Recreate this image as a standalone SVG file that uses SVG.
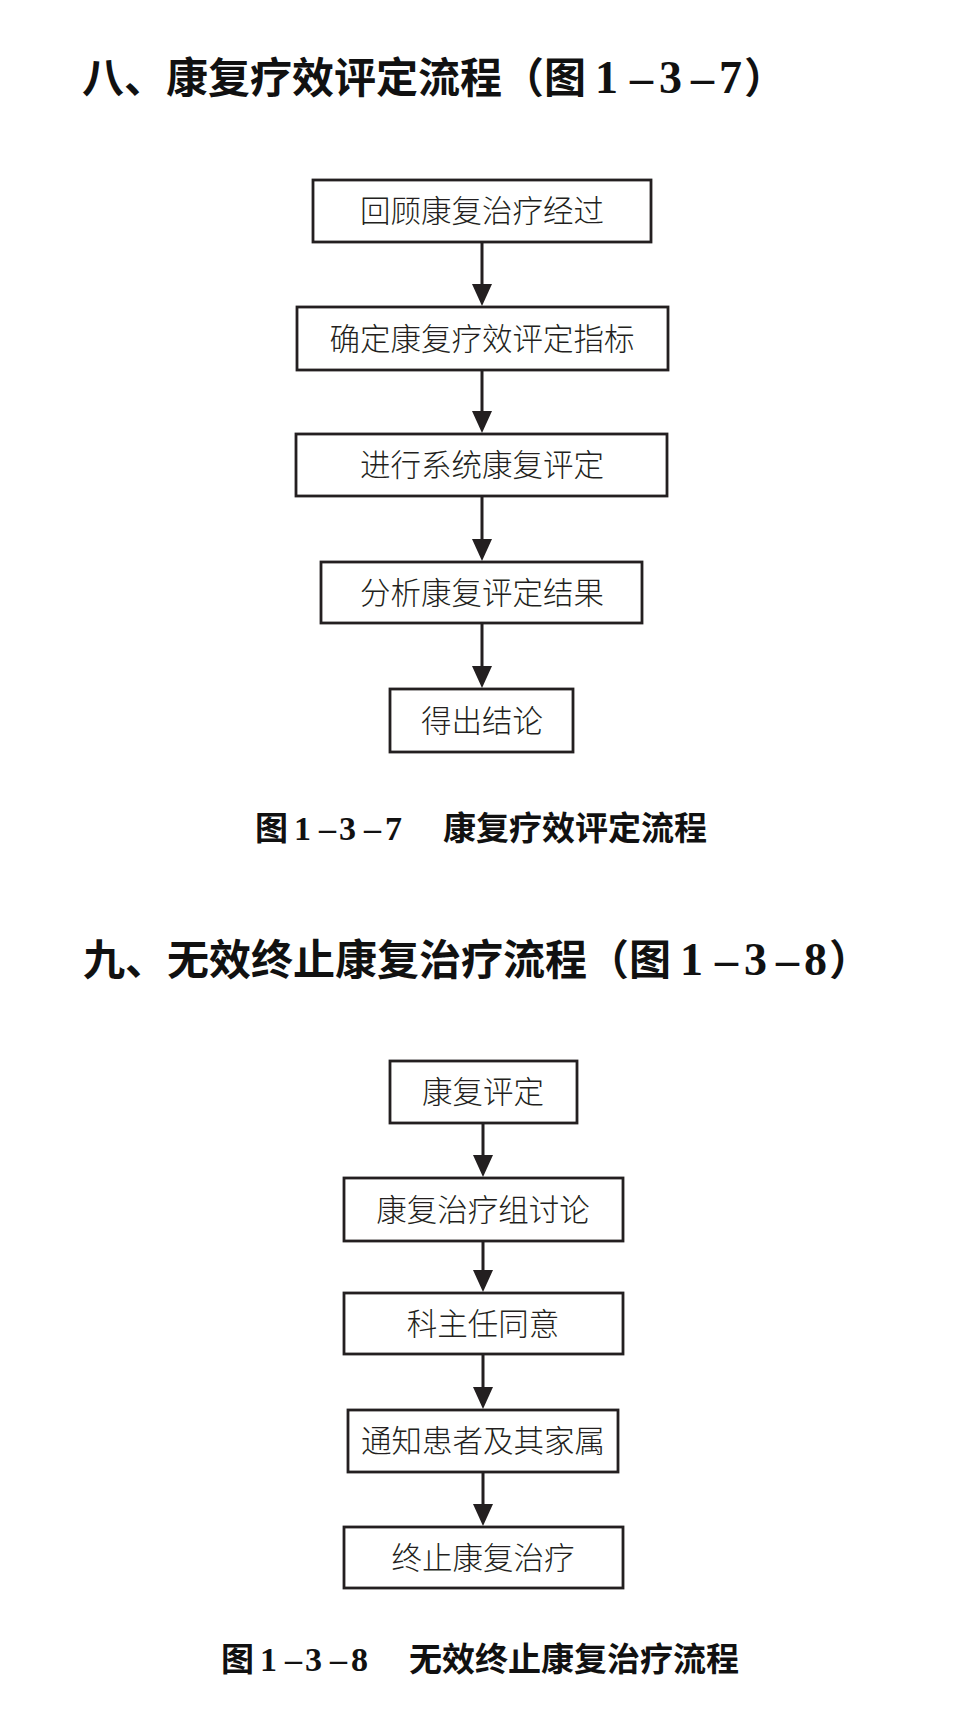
<svg xmlns="http://www.w3.org/2000/svg" width="956" height="1735" viewBox="0 0 956 1735">
<style>
.title{font-family:"Noto Sans CJK SC",sans-serif;font-size:42px;font-weight:bold;fill:#111}
.tnum{font-family:"Liberation Serif",serif;font-size:46px;font-weight:bold;fill:#111}
.cap{font-family:"Noto Sans CJK SC",sans-serif;font-size:33px;font-weight:bold;fill:#111}
.cnum{font-family:"Liberation Serif",serif;font-size:34px;font-weight:bold;fill:#111}
.box{fill:#fff;stroke:#231f20;stroke-width:2.8}
.lbl{font-family:"Noto Sans CJK SC",sans-serif;font-size:30.5px;font-weight:300;fill:#231f20;text-anchor:middle}
.conn{stroke:#231f20;stroke-width:3;fill:none}
</style>
<defs>
<marker id="ah" markerUnits="userSpaceOnUse" markerWidth="22" markerHeight="20" refX="10" refY="10" orient="auto" viewBox="0 0 22 20">
<path d="M0,0 L22,10 L0,20 z" fill="#231f20"/>
</marker>
</defs>
<rect width="956" height="1735" fill="#fff"/>

<g id="title1">
<text class="title" y="93"><tspan x="82">八、康复疗效评定流程</tspan><tspan x="502">（</tspan><tspan x="544">图</tspan></text>
<text class="tnum" y="93"><tspan x="595">1</tspan><tspan x="630">–</tspan><tspan x="659">3</tspan><tspan x="691">–</tspan><tspan x="719">7</tspan></text>
<text class="title" y="93"><tspan x="744">）</tspan></text>
</g>

<g id="n1"><rect class="box" x="313" y="180" width="338" height="62"/><text class="lbl" x="482" y="222">回顾康复治疗经过</text></g>
<g id="n2"><rect class="box" x="297" y="307" width="371" height="63"/><text class="lbl" x="482" y="349.5">确定康复疗效评定指标</text></g>
<g id="n3"><rect class="box" x="296" y="434" width="371" height="62"/><text class="lbl" x="482" y="476">进行系统康复评定</text></g>
<g id="n4"><rect class="box" x="321" y="562" width="321" height="61"/><text class="lbl" x="482" y="603.5">分析康复评定结果</text></g>
<g id="n5"><rect class="box" x="390" y="689" width="183" height="63"/><text class="lbl" x="482" y="731.5">得出结论</text></g>

<g id="connectors1">
<line class="conn" x1="482" y1="243" x2="482" y2="294" marker-end="url(#ah)"/>
<line class="conn" x1="482" y1="371" x2="482" y2="421" marker-end="url(#ah)"/>
<line class="conn" x1="482" y1="497" x2="482" y2="549" marker-end="url(#ah)"/>
<line class="conn" x1="482" y1="624" x2="482" y2="676" marker-end="url(#ah)"/>
</g>

<g id="caption1">
<text class="cap" y="840"><tspan x="255">图</tspan></text>
<text class="cnum" y="840"><tspan x="294">1</tspan><tspan x="319">–</tspan><tspan x="339">3</tspan><tspan x="364">–</tspan><tspan x="385">7</tspan></text>
<text class="cap" y="840"><tspan x="443">康复疗效评定流程</tspan></text>
</g>

<g id="title2">
<text class="title" y="975"><tspan x="83">九、无效终止康复治疗流程</tspan><tspan x="587">（</tspan><tspan x="629">图</tspan></text>
<text class="tnum" y="975"><tspan x="680">1</tspan><tspan x="715">–</tspan><tspan x="744">3</tspan><tspan x="776">–</tspan><tspan x="804">8</tspan></text>
<text class="title" y="975"><tspan x="829">）</tspan></text>
</g>

<g id="m1"><rect class="box" x="390" y="1061" width="187" height="62"/><text class="lbl" x="483" y="1103">康复评定</text></g>
<g id="m2"><rect class="box" x="344" y="1178" width="279" height="63"/><text class="lbl" x="483" y="1220.5">康复治疗组讨论</text></g>
<g id="m3"><rect class="box" x="344" y="1293" width="279" height="61"/><text class="lbl" x="483" y="1334.5">科主任同意</text></g>
<g id="m4"><rect class="box" x="348" y="1410" width="270" height="62"/><text class="lbl" x="483" y="1452">通知患者及其家属</text></g>
<g id="m5"><rect class="box" x="344" y="1527" width="279" height="61"/><text class="lbl" x="483" y="1568.5">终止康复治疗</text></g>

<g id="connectors2">
<line class="conn" x1="483" y1="1124" x2="483" y2="1165" marker-end="url(#ah)"/>
<line class="conn" x1="483" y1="1242" x2="483" y2="1280" marker-end="url(#ah)"/>
<line class="conn" x1="483" y1="1355" x2="483" y2="1397" marker-end="url(#ah)"/>
<line class="conn" x1="483" y1="1473" x2="483" y2="1514" marker-end="url(#ah)"/>
</g>

<g id="caption2">
<text class="cap" y="1671"><tspan x="221">图</tspan></text>
<text class="cnum" y="1671"><tspan x="260">1</tspan><tspan x="285">–</tspan><tspan x="305">3</tspan><tspan x="330">–</tspan><tspan x="351">8</tspan></text>
<text class="cap" y="1671"><tspan x="409">无效终止康复治疗流程</tspan></text>
</g>
</svg>
